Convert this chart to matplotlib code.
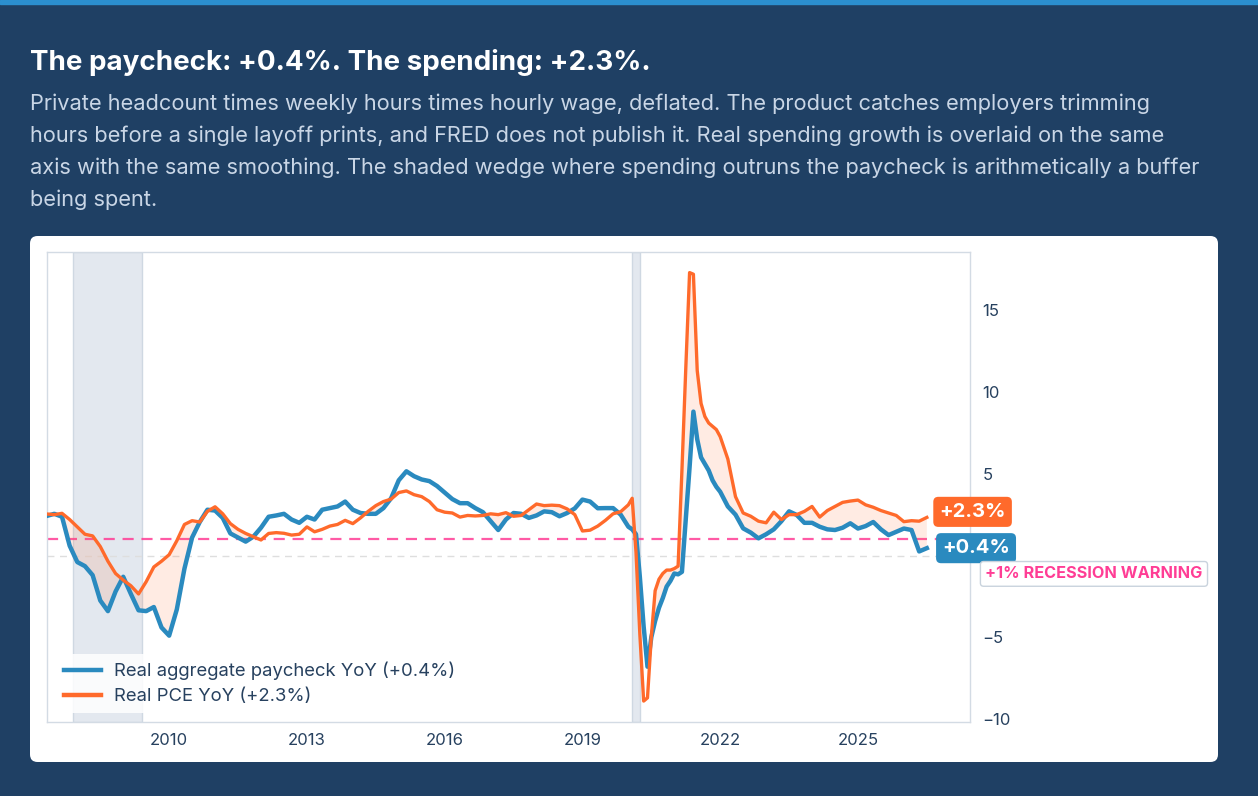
import matplotlib
matplotlib.use("Agg")
import matplotlib.pyplot as plt
from matplotlib.patches import FancyBboxPatch, Rectangle
import numpy as np

plt.rcParams['font.family'] = ['Inter', 'DejaVu Sans']

# ---- data ----
dates = [
    "2007-05", "2007-07", "2007-09", "2007-11", "2008-01", "2008-03", "2008-05", "2008-07",
    "2008-09", "2008-11", "2009-01", "2009-03", "2009-05", "2009-07", "2009-09", "2009-11",
    "2010-01", "2010-03", "2010-05", "2010-07", "2010-09", "2010-11", "2011-01", "2011-03",
    "2011-05", "2011-07", "2011-09", "2011-11", "2012-01", "2012-03", "2012-05", "2012-07",
    "2012-09", "2012-11", "2013-01", "2013-03", "2013-05", "2013-07", "2013-09", "2013-11",
    "2014-01", "2014-03", "2014-05", "2014-07", "2014-09", "2014-11", "2015-01", "2015-03",
    "2015-05", "2015-07", "2015-09", "2015-11", "2016-01", "2016-03", "2016-05", "2016-07",
    "2016-09", "2016-11", "2017-01", "2017-03", "2017-05", "2017-07", "2017-09", "2017-11",
    "2018-01", "2018-03", "2018-05", "2018-07", "2018-09", "2018-11", "2019-01", "2019-03",
    "2019-05", "2019-07", "2019-09", "2019-11", "2020-01", "2020-02", "2020-03", "2020-04",
    "2020-05", "2020-06", "2020-07", "2020-08", "2020-09", "2020-10", "2020-11", "2020-12",
    "2021-01", "2021-02", "2021-03", "2021-04", "2021-05", "2021-06", "2021-07", "2021-08",
    "2021-09", "2021-10", "2021-11", "2021-12", "2022-01", "2022-03", "2022-05", "2022-07",
    "2022-09", "2022-11", "2023-01", "2023-03", "2023-05", "2023-07", "2023-09", "2023-11",
    "2024-01", "2024-03", "2024-05", "2024-07", "2024-09", "2024-11", "2025-01", "2025-03",
    "2025-05", "2025-07", "2025-09", "2025-11", "2026-01", "2026-03", "2026-05", "2026-07",
]

paycheck = [
    2.42, 2.55, 2.37, 0.6, -0.4, -0.65, -1.2, -2.75,
    -3.4, -2.2, -1.3, -2.35, -3.35, -3.4, -3.15, -4.4,
    -4.9, -3.3, -0.8, 1.1, 2.05, 2.8, 2.75, 2.3,
    1.35, 1.1, 0.85, 1.15, 1.7, 2.37, 2.45, 2.55,
    2.2, 2.0, 2.37, 2.2, 2.8, 2.9, 3.0, 3.3,
    2.8, 2.6, 2.55, 2.55, 2.9, 3.5, 4.6, 5.15,
    4.85, 4.65, 4.55, 4.25, 3.85, 3.45, 3.2, 3.2,
    2.9, 2.65, 2.1, 1.56, 2.2, 2.6, 2.55, 2.3,
    2.45, 2.7, 2.65, 2.4, 2.6, 2.88, 3.42, 3.3,
    2.89, 2.9, 2.9, 2.5, 1.76, 1.6, 1.3, -1.3,
    -4.35, -6.8, -5.0, -4.0, -3.2, -2.6, -1.9, -1.55,
    -1.1, -1.15, -1.0, 2.2, 5.4, 8.8, 7.1, 6.0,
    5.6, 5.2, 4.6, 4.2, 3.9, 3.0, 2.5, 1.66,
    1.4, 1.05, 1.3, 1.6, 2.1, 2.7, 2.48, 2.0,
    2.0, 1.76, 1.6, 1.56, 1.7, 1.97, 1.65, 1.8,
    2.05, 1.6, 1.25, 1.45, 1.65, 1.56, 0.25, 0.45,
]

pce = [
    2.54, 2.5, 2.58, 2.2, 1.75, 1.3, 1.2, 0.55,
    -0.35, -1.1, -1.5, -1.85, -2.35, -1.6, -0.7, -0.35,
    0.05, 0.9, 1.9, 2.13, 2.05, 2.7, 2.98, 2.55,
    1.95, 1.6, 1.35, 1.15, 0.95, 1.35, 1.4, 1.36,
    1.25, 1.3, 1.75, 1.45, 1.6, 1.8, 1.9, 2.15,
    1.95, 2.3, 2.7, 3.05, 3.3, 3.45, 3.85, 3.95,
    3.72, 3.6, 3.3, 2.8, 2.65, 2.6, 2.35, 2.45,
    2.42, 2.45, 2.55, 2.5, 2.62, 2.4, 2.45, 2.8,
    3.15, 3.05, 3.08, 3.05, 2.85, 2.5, 1.5, 1.55,
    1.8, 2.15, 2.55, 2.68, 3.1, 3.5, 0.2, -4.8,
    -8.9, -8.7, -4.97, -2.15, -1.45, -1.1, -0.89, -0.89,
    -0.8, -0.65, 5.2, 11.4, 17.3, 17.2, 11.3, 9.3,
    8.5, 8.1, 7.9, 7.7, 7.27, 5.9, 3.6, 2.6,
    2.4, 2.1, 2.0, 2.65, 2.2, 2.5, 2.5, 2.7,
    3.0, 2.35, 2.75, 3.0, 3.25, 3.33, 3.39, 3.1,
    2.95, 2.75, 2.6, 2.45, 2.07, 2.13, 2.1, 2.33,
]

recessions = [("2007-12", "2009-06"), ("2020-02", "2020-04")]
xtick_years = [2010, 2013, 2016, 2019, 2022, 2025]
yticks = [-10, -5, 0, 5, 10, 15]
warning_level = 1.0

title = "The paycheck: +0.4%. The spending: +2.3%."
subtitle = [
    "Private headcount times weekly hours times hourly wage, deflated. The product catches employers trimming",
    "hours before a single layoff prints, and FRED does not publish it. Real spending growth is overlaid on the same",
    "axis with the same smoothing. The shaded wedge where spending outruns the paycheck is arithmetically a buffer",
    "being spent.",
]


def to_year(s):
    y, m = s.split("-")
    return int(y) + (int(m) - 1) / 12


def tick_label(v):
    # the zero label sits under the +0.4% tag in the original, so it is left blank
    if v == 0:
        return ""
    return ("\u2212" + str(-v)) if v < 0 else str(v)


x = np.array([to_year(d) for d in dates])
pay = np.array(paycheck)
spend = np.array(pce)

# ---- colours ----
NAVY = "#1f4064"
BLUE = "#2a8abf"
ORANGE = "#ff6a2b"
PINK = "#ff3d95"
INK = "#27415f"

fig = plt.figure(figsize=(12.58, 7.96), dpi=100)
fig.patch.set_facecolor(NAVY)
W, H = 1258, 796

# top accent stripe and white card (behind the axes)
fig.patches.append(Rectangle((0, 1 - 4 / H), 1, 4 / H, transform=fig.transFigure,
                             color="#2b8fcf", zorder=-2))
card = FancyBboxPatch((30 / W, 1 - 762 / H), (1218 - 30) / W, (762 - 236) / H,
                      boxstyle="round,pad=0,rounding_size=0.006", mutation_aspect=W / H,
                      transform=fig.transFigure, facecolor="white", edgecolor="none", zorder=-2)
fig.patches.append(card)

fig.text(30 / W, 1 - 62 / H, title, color="white", fontsize=20, fontweight="bold",
         va="center", ha="left")
for i, line in enumerate(subtitle):
    fig.text(30 / W, 1 - (104 + 32 * i) / H, line, color="#c9d6e6", fontsize=15.7,
             va="center", ha="left")

ax = fig.add_axes([47 / W, 1 - 722 / H, (970 - 47) / W, (722 - 252) / H])
ax.set_facecolor("white")

for a, b in recessions:
    ax.axvspan(to_year(a), to_year(b), facecolor="#e3e8ef", edgecolor="#cfd8e2", lw=1, zorder=0)

ax.axhline(0, color="#dedede", lw=1, ls=(0, (5, 4)), zorder=1)
ax.axhline(warning_level, color=PINK, lw=1.6, ls=(0, (5, 3.5)), alpha=0.85, zorder=2)

ax.fill_between(x, pay, spend, where=spend > pay, interpolate=True,
                color=ORANGE, alpha=0.13, lw=0, zorder=2)
ax.plot(x, pay, color=BLUE, lw=3.2, solid_joinstyle="round",
        label="Real aggregate paycheck YoY (+0.4%)", zorder=3)
ax.plot(x, spend, color=ORANGE, lw=2.4, solid_joinstyle="round",
        label="Real PCE YoY (+2.3%)", zorder=4)

ax.set_xlim(2007.34, 2027.44)
ax.set_ylim(-10.18, 18.56)
ax.set_xticks(xtick_years)
ax.set_xticklabels([str(v) for v in xtick_years])
ax.set_yticks(yticks)
ax.set_yticklabels([tick_label(v) for v in yticks])
ax.yaxis.tick_right()
ax.tick_params(axis="both", length=0, labelsize=12, colors=INK)
ax.tick_params(axis="y", pad=9)
ax.tick_params(axis="x", pad=8)
for sp in ax.spines.values():
    sp.set_color("#d3dbe4")
    sp.set_linewidth(1)

leg = ax.legend(loc="lower left", bbox_to_anchor=(0.0, 0.0), frameon=True, fontsize=13.3,
                handlelength=2.0, labelspacing=0.45, borderaxespad=0.5, handletextpad=0.75)
leg.get_frame().set_facecolor("white")
leg.get_frame().set_alpha(0.85)
leg.get_frame().set_edgecolor("none")
for t in leg.get_texts():
    t.set_color(INK)
for h in leg.get_lines():
    h.set_linewidth(3.2)

# end-of-line value tags
tag_box = dict(boxstyle="round,pad=0.3,rounding_size=0.25", ec="none")
ax.annotate("+2.3%", xy=(x[-1], spend[-1]), xytext=(9, 4), textcoords="offset points",
            ha="left", va="center", color="white", fontsize=14.5, fontweight="bold",
            annotation_clip=False, zorder=6, bbox=dict(tag_box, fc=ORANGE))
ax.annotate("+0.4%", xy=(x[-1], pay[-1]), xytext=(11, 0), textcoords="offset points",
            ha="left", va="center", color="white", fontsize=14.5, fontweight="bold",
            annotation_clip=False, zorder=6, bbox=dict(tag_box, fc=BLUE))
ax.annotate("+1% RECESSION WARNING", xy=(1.0, warning_level), xycoords=("axes fraction", "data"),
            xytext=(11, -25), textcoords="offset points", ha="left", va="center",
            color=PINK, fontsize=11.7, fontweight="bold", annotation_clip=False, zorder=6,
            bbox=dict(boxstyle="round,pad=0.3,rounding_size=0.2", fc="white", ec="#c9d3dd", lw=1))

fig.savefig("out.png", dpi=100, facecolor=fig.get_facecolor())
